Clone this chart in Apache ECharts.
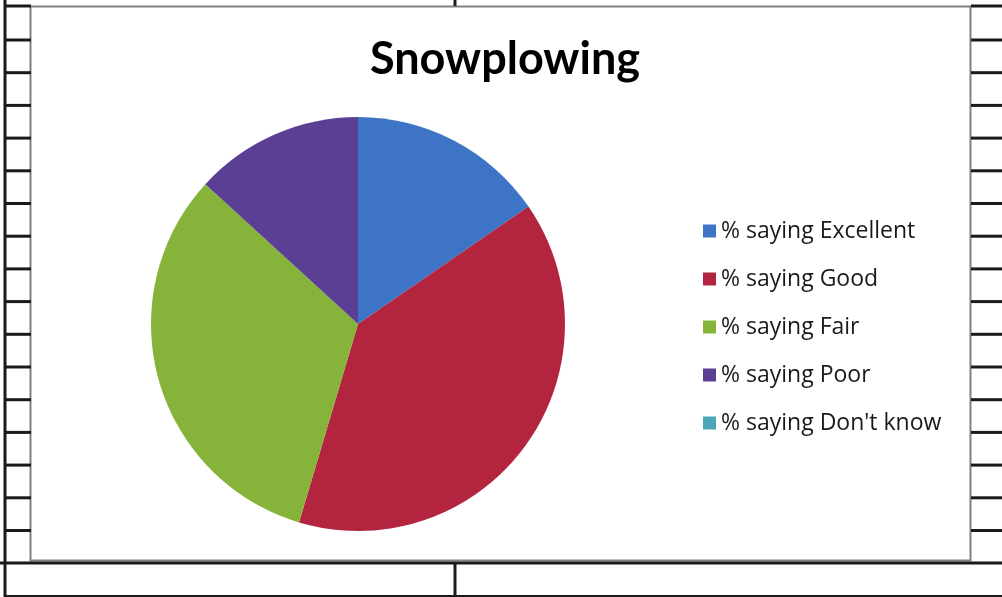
<!DOCTYPE html>
<html>
<head>
<meta charset="utf-8">
<script src="https://cdn.jsdelivr.net/npm/echarts@6/dist/echarts.min.js"></script>
<style>
html,body{margin:0;padding:0;background:#fff;}
#c{width:1002px;height:597px;}
</style>
</head>
<body>
<div id="c"></div>
<script>
const titleText = 'Snowplowing';
const categories = ['% saying Excellent', '% saying Good', '% saying Fair', '% saying Poor', "% saying Don't know"];
const values = [15.4, 39.2, 32.2, 13.2, 0];
const colors = ['#3e74c6', '#b3253e', '#86b43a', '#5b3f95', '#4aa6b8'];

const chart = echarts.init(document.getElementById('c'), null, {renderer: 'canvas'});

// spreadsheet background decoration
const deco = [];
function line(x1, y1, x2, y2, w, col) {
  deco.push({type: 'line', shape: {x1, y1, x2, y2}, style: {stroke: col, lineWidth: w}, silent: true});
}
line(5, 0, 5, 597, 3, '#1a1a1a');
for (let i = 0; i <= 15; i++) {
  const y = 40 + i * 32.7;
  line(5, y, 31, y, 3, '#1a1a1a');
  line(971, y, 1002, y, 3, '#1a1a1a');
}
line(5, 6, 31, 6, 3, '#1a1a1a');
line(971, 6, 1002, 6, 3, '#1a1a1a');
line(455, 0, 455, 6, 3, '#1a1a1a');
line(0, 563, 1002, 563, 3, '#1a1a1a');
line(455, 563, 455, 597, 3, '#1a1a1a');
line(5, 596, 1002, 596, 2, '#1a1a1a');
deco.push({type: 'rect', shape: {x: 30.5, y: 6.5, width: 940, height: 554}, style: {fill: '#fff', stroke: '#808080', lineWidth: 2}, silent: true, z: -1});

chart.setOption({
  animation: false,
  backgroundColor: '#fff',
  graphic: deco,
  title: {
    text: titleText,
    left: 500, top: 32, textAlign: 'center',
    textStyle: {fontFamily: 'Lato', fontWeight: 'bold', fontSize: 45, color: '#000'}
  },
  legend: {
    orient: 'vertical',
    left: 698, top: 214,
    itemWidth: 13, itemHeight: 13, itemGap: 24,
    icon: 'rect',
    data: categories,
    textStyle: {fontFamily: 'Open Sans', fontSize: 23, color: '#1a1a1a', lineHeight: 24}
  },
  color: colors,
  series: [{
    type: 'pie',
    center: [358, 324],
    radius: 207,
    startAngle: 90,
    clockwise: true,
    label: {show: false},
    labelLine: {show: false},
    itemStyle: {borderWidth: 0},
    emphasis: {disabled: true},
    data: categories.map((n, i) => ({name: n, value: values[i]}))
  }]
});
</script>
</body>
</html>
